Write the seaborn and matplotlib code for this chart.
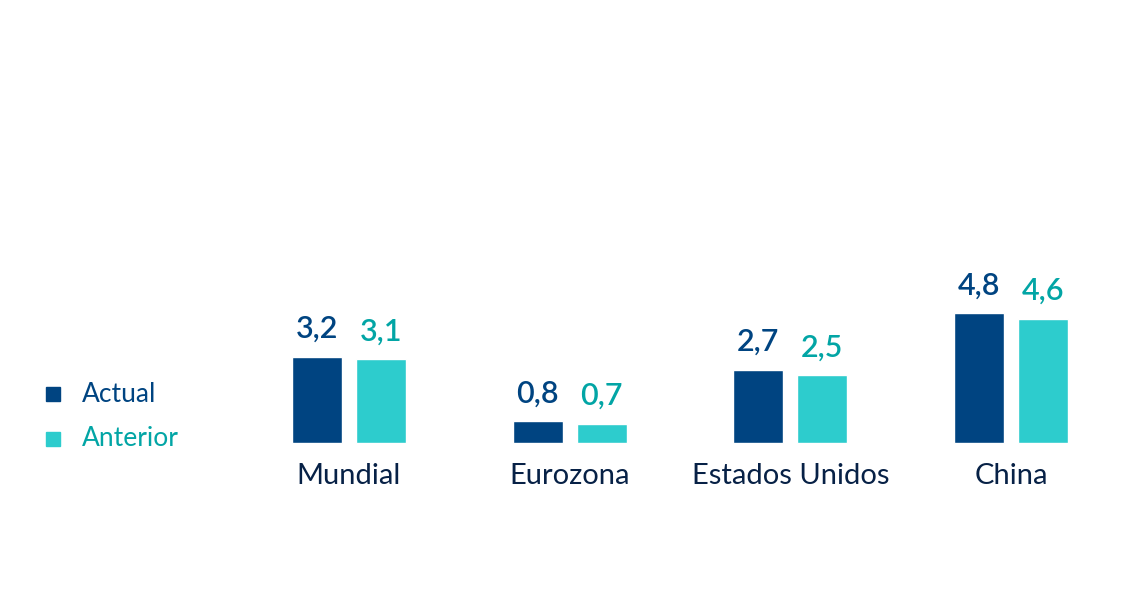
import matplotlib.pyplot as plt
import seaborn as sns
import pandas as pd

regiones = ["Mundial", "Eurozona", "Estados Unidos", "China"]
actual = [3.2, 0.8, 2.7, 4.8]
anterior = [3.1, 0.7, 2.5, 4.6]
series = ["Actual", "Anterior"]

colorBarras = {"Actual": "#004481", "Anterior": "#2DCCCD"}
colorTextos = {"Actual": "#004481", "Anterior": "#02A5A5"}

df = pd.DataFrame({
    "region": regiones * 2,
    "valor": actual + anterior,
    "serie": [series[0]] * len(regiones) + [series[1]] * len(regiones),
})

sns.set_style("white")
plt.rcParams["font.family"] = ["Lato", "DejaVu Sans"]

fig = plt.figure(figsize=(11.47, 5.95), dpi=100)
ax = fig.add_axes([0, 0, 1, 1])

sns.barplot(
    data=df, x="region", y="valor", hue="serie", order=regiones,
    hue_order=series, palette=colorBarras, width=0.58, gap=0.22,
    legend=False, ax=ax, saturation=1,
)

# etiquetas de valor encima de cada barra
for cont, serie in zip(ax.containers, series):
    etiquetas = [f"{v:.1f}".replace(".", ",") for v in cont.datavalues]
    ax.bar_label(cont, labels=etiquetas, padding=10, fontsize=22,
                 color=colorTextos[serie], fontweight="semibold")

ax.set_xlim(-1.581, 3.616)
ax.set_ylim(-5.63, 16.4)
ax.axis("off")

# nombres de las regiones bajo las barras
for i, r in enumerate(regiones):
    ax.text(i, -0.75, r, ha="center", va="top", fontsize=21, color="#072146")

# leyenda manual
for serie, y in zip(series, [394, 439]):
    yf = 1 - y / 595
    fig.patches.append(plt.Rectangle((46 / 1147, yf - 7 / 595), 14 / 1147, 14 / 595,
                                     transform=fig.transFigure,
                                     color=colorBarras[serie]))
    fig.text(82 / 1147, yf, serie, ha="left", va="center", fontsize=19,
             color=colorTextos[serie])

fig.savefig("out.png", dpi=100)
